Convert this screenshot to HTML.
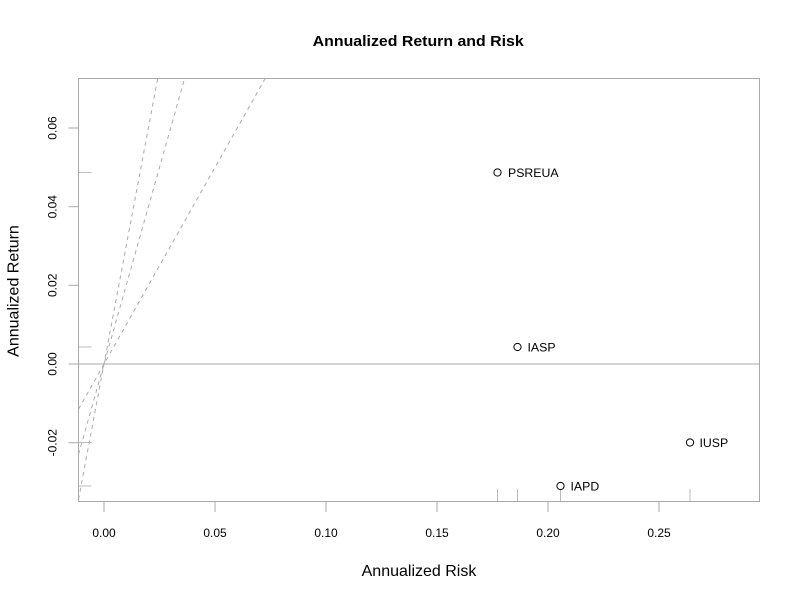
<!DOCTYPE html>
<html>
<head>
<meta charset="utf-8">
<style>
  html, body { margin: 0; padding: 0; background: #ffffff; }
  svg { display: block; }
  text { font-family: "Liberation Sans", "DejaVu Sans", sans-serif; fill: #000; }
</style>
</head>
<body>
<svg width="800" height="600" viewBox="0 0 800 600" xmlns="http://www.w3.org/2000/svg">
  <defs>
    <clipPath id="plotclip">
      <rect x="78.5" y="78.5" width="681" height="423"/>
    </clipPath>
  </defs>
  <rect x="0" y="0" width="800" height="600" fill="#ffffff"/>

  <!-- Title -->
  <text x="312.7" y="46" font-size="14.5" font-weight="bold" textLength="211" lengthAdjust="spacingAndGlyphs">Annualized Return and Risk</text>

  <!-- Sharpe ratio dashed lines -->
  <g clip-path="url(#plotclip)" stroke="#AAAAAA" stroke-width="1" stroke-dasharray="4,4" fill="none">
    <line x1="78.5" y1="409.2" x2="265.2" y2="78.5"/>
    <line x1="78.5" y1="454.4" x2="184.6" y2="78.5"/>
    <line x1="78.5" y1="499.5" x2="157.7" y2="78.5"/>
  </g>

  <!-- zero line -->
  <line x1="68.5" y1="364" x2="759.5" y2="364" stroke="#A9A9A9" stroke-width="1"/>

  <!-- rug marks x -->
  <g stroke="#BBBBBB" stroke-width="1">
    <line x1="497.5" y1="489" x2="497.5" y2="501.5"/>
    <line x1="517.5" y1="489" x2="517.5" y2="501.5"/>
    <line x1="560.5" y1="489" x2="560.5" y2="501.5"/>
    <line x1="690" y1="489" x2="690" y2="501.5"/>
  </g>
  <!-- rug marks y -->
  <g stroke="#BBBBBB" stroke-width="1">
    <line x1="78.5" y1="172.5" x2="91.5" y2="172.5"/>
    <line x1="78.5" y1="347" x2="91.5" y2="347"/>
    <line x1="78.5" y1="442.5" x2="91.5" y2="442.5"/>
    <line x1="78.5" y1="486" x2="91.5" y2="486"/>
  </g>

  <!-- Box -->
  <rect x="78.5" y="78.5" width="681" height="423" fill="none" stroke="#A9A9A9" stroke-width="1"/>

  <!-- X axis ticks -->
  <g stroke="#A9A9A9" stroke-width="1">
    <line x1="104" y1="502" x2="104" y2="512"/>
    <line x1="215" y1="502" x2="215" y2="512"/>
    <line x1="326" y1="502" x2="326" y2="512"/>
    <line x1="437" y1="502" x2="437" y2="512"/>
    <line x1="548" y1="502" x2="548" y2="512"/>
    <line x1="659" y1="502" x2="659" y2="512"/>
  </g>
  <g font-size="12" text-anchor="middle">
    <text x="104" y="537">0.00</text>
    <text x="215" y="537">0.05</text>
    <text x="326" y="537">0.10</text>
    <text x="437" y="537">0.15</text>
    <text x="548" y="537">0.20</text>
    <text x="659" y="537">0.25</text>
  </g>

  <!-- Y axis ticks -->
  <g stroke="#A9A9A9" stroke-width="1">
    <line x1="68.5" y1="128" x2="78.5" y2="128"/>
    <line x1="68.5" y1="206.7" x2="78.5" y2="206.7"/>
    <line x1="68.5" y1="285.3" x2="78.5" y2="285.3"/>
    <line x1="68.5" y1="364" x2="78.5" y2="364"/>
    <line x1="68.5" y1="442.7" x2="78.5" y2="442.7"/>
  </g>
  <g font-size="12" text-anchor="middle">
    <text x="56.5" y="128" transform="rotate(-90 56.5 128)">0.06</text>
    <text x="56.5" y="206.7" transform="rotate(-90 56.5 206.7)">0.04</text>
    <text x="56.5" y="285.3" transform="rotate(-90 56.5 285.3)">0.02</text>
    <text x="56.5" y="364" transform="rotate(-90 56.5 364)">0.00</text>
    <text x="56.5" y="442.7" transform="rotate(-90 56.5 442.7)">-0.02</text>
  </g>

  <!-- Axis labels -->
  <text x="419" y="576" font-size="16" text-anchor="middle">Annualized Risk</text>
  <text x="18.5" y="291" font-size="16" text-anchor="middle" transform="rotate(-90 18.5 291)">Annualized Return</text>

  <!-- Points -->
  <g fill="none" stroke="#000" stroke-width="1">
    <circle cx="497.5" cy="172.5" r="3.6"/>
    <circle cx="517.5" cy="347" r="3.6"/>
    <circle cx="690" cy="442.5" r="3.6"/>
    <circle cx="560.5" cy="486" r="3.6"/>
  </g>
  <g font-size="12.3">
    <text x="508" y="177">PSREUA</text>
    <text x="527.5" y="351.5">IASP</text>
    <text x="699.5" y="447">IUSP</text>
    <text x="570.5" y="490.5">IAPD</text>
  </g>
</svg>
</body>
</html>
